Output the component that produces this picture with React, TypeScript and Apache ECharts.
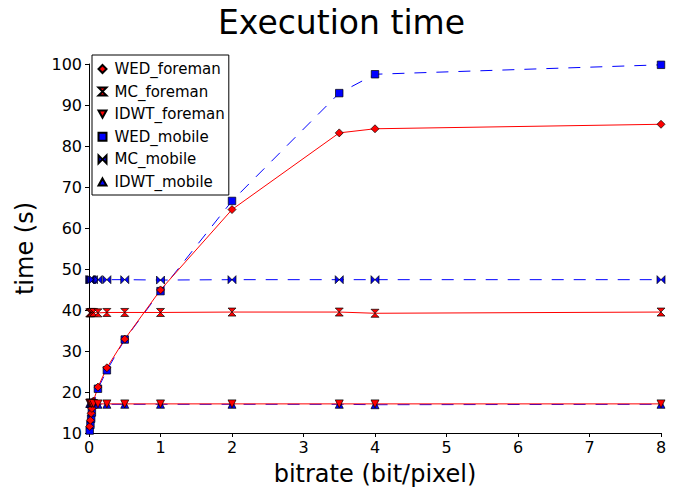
import React, { useEffect, useRef } from "react";
import * as echarts from "echarts";

const bitrates = [0.01, 0.02, 0.03, 0.04, 0.0625, 0.125, 0.25, 0.5, 1, 2, 3.5, 4, 8];
const wedForeman = [11.6, 13.1, 14.8, 16.0, 17.8, 21.2, 25.9, 32.9, 44.9, 64.5, 83.2, 84.2, 85.3];
const mcForeman = [39.3, 39.3, 39.4, 39.4, 39.4, 39.3, 39.4, 39.4, 39.4, 39.5, 39.5, 39.2, 39.5];
const idwtForeman = [17.3, 17.3, 17.2, 17.2, 17.2, 17.1, 17.1, 17.1, 17.1, 17.1, 17.1, 17.1, 17.1];
const wedMobile = [10.6, 12.0, 13.5, 15.0, 17.0, 20.8, 25.3, 32.8, 44.6, 66.6, 92.9, 97.5, 99.8];
const mcMobile = [47.4, 47.4, 47.4, 47.4, 47.4, 47.4, 47.4, 47.4, 47.3, 47.4, 47.4, 47.4, 47.4];
const idwtMobile = [17.2, 17.2, 17.1, 17.1, 17.1, 17.0, 17.0, 17.0, 17.0, 17.0, 17.0, 16.9, 17.0];
const xTicks = [0, 8, 1];
const yTicks = [10, 100, 10];

const HOURGLASS = "path://M0,0L10,0L0,10L10,10Z";
const BOWTIE = "path://M0,0L0,10L10,0L10,10Z";
const TRI_DOWN = "path://M0,0L10,0L5,9Z";
const TRI_UP = "path://M5,0L10,9L0,9Z";

const FONT = "DejaVu Sans";

export default function App() {
  const ref = useRef<HTMLDivElement>(null);
  useEffect(() => {
    if (!ref.current) return;
    const chart = echarts.init(ref.current, null, { renderer: "svg" });
    const mk = (name: string, vals: number[], color: string, symbol: string, size: number, dashed: boolean) => ({
      name,
      type: "line",
      data: bitrates.map((x, i) => [x, vals[i]]),
      symbol,
      symbolSize: size,
      showSymbol: true,
      showAllSymbol: true,
      lineStyle: { color, width: 1, type: dashed ? [12, 10] : "solid" },
      itemStyle: { color, borderColor: "#000", borderWidth: 0.7 },
      emphasis: { disabled: true },
    });
    const legendNames = [
      ["WED_foreman", "diamond"],
      ["MC_foreman", HOURGLASS],
      ["IDWT_foreman", TRI_DOWN],
      ["WED_mobile", "rect"],
      ["MC_mobile", BOWTIE],
      ["IDWT_mobile", TRI_UP],
    ];
    chart.setOption({
      animation: false,
      backgroundColor: "#fff",
      title: {
        text: "Execution time",
        left: "center",
        top: 1,
        textStyle: { fontSize: 33, fontWeight: "normal", color: "#000", fontFamily: FONT },
      },
      grid: { left: 89, right: 22, top: 64, bottom: 60, containLabel: false, outerBoundsMode: "none" },
      legend: {
        orient: "vertical",
        left: 92,
        top: 55,
        padding: [6, 4, 5, 5.5],
        itemGap: 6.6,
        itemWidth: 8,
        itemHeight: 8,
        backgroundColor: "#fff",
        borderColor: "#000",
        borderWidth: 1,
        borderRadius: 0,
        textStyle: { fontSize: 15, color: "#000", fontFamily: FONT, lineHeight: 16, padding: [0, 0, 0, 3] },
        data: legendNames.map(([n, icon]) => ({ name: n, icon })),
      },
      xAxis: {
        type: "value",
        min: xTicks[0],
        max: xTicks[1],
        interval: xTicks[2],
        name: "bitrate (bit/pixel)",
        nameLocation: "middle",
        nameGap: 29,
        nameTextStyle: { fontSize: 24, color: "#000", fontFamily: FONT },
        axisLine: { lineStyle: { color: "#000", width: 1 } },
        axisTick: { inside: false, length: 4, lineStyle: { color: "#000" } },
        axisLabel: { fontSize: 16, color: "#000", fontFamily: FONT, margin: 6 },
        splitLine: { show: false },
      },
      yAxis: {
        type: "value",
        min: yTicks[0],
        max: yTicks[1],
        interval: yTicks[2],
        name: "time (s)",
        nameLocation: "middle",
        nameGap: 52,
        nameTextStyle: { fontSize: 24, color: "#000", fontFamily: FONT },
        axisLine: { show: true, lineStyle: { color: "#000", width: 1 } },
        axisTick: { show: true, inside: false, length: 4, lineStyle: { color: "#000" } },
        axisLabel: { fontSize: 16, color: "#000", fontFamily: FONT, margin: 7 },
        splitLine: { show: false },
      },
      series: [
        mk("WED_mobile", wedMobile, "#0000ff", "rect", 7.5, true),
        mk("MC_mobile", mcMobile, "#0000ff", BOWTIE, 8, true),
        mk("IDWT_mobile", idwtMobile, "#0000ff", TRI_UP, 8, true),
        mk("WED_foreman", wedForeman, "#ff0000", "diamond", 8, false),
        mk("MC_foreman", mcForeman, "#ff0000", HOURGLASS, 8, false),
        mk("IDWT_foreman", idwtForeman, "#ff0000", TRI_DOWN, 8, false),
      ],
    });
    return () => chart.dispose();
  }, []);
  return (
    <div
      ref={ref}
      style={{ position: "fixed", left: 0, top: 0, width: 683, height: 493, background: "#fff" }}
    />
  );
}
